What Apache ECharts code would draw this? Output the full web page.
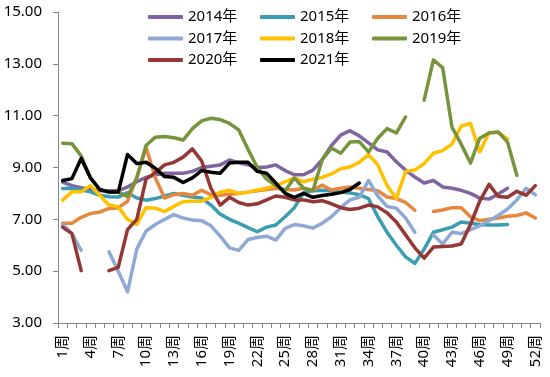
<!DOCTYPE html>
<html>
<head>
<meta charset="utf-8">
<script src="https://cdn.jsdelivr.net/npm/echarts@6/dist/echarts.min.js"></script>
<style>
  html, body { margin: 0; padding: 0; background: #fff; }
  #chart { width: 550px; height: 377px; }
</style>
</head>
<body>
<div id="chart"></div>
<script>
const weeks = Array.from({ length: 52 }, (_, i) => (i + 1) + "周");
const yTicks = [3, 5, 7, 9, 11, 13, 15];

const years = ["2014年", "2015年", "2016年", "2017年", "2018年", "2019年", "2020年", "2021年"];
const colors = ["#8064a2", "#3a9db1", "#e5883e", "#8eaad4", "#ffc000", "#77933c", "#953735", "#000000"];

const y2014 = [8.44, 8.3, 8.22, 8.15, 8.1, 8.1, 8.1, 8.25, 8.45, 8.62, 8.72, 8.78, 8.78, 8.78, 8.85, 9.0, 9.05, 9.1, 9.29, 9.18,
  9.1, 9.0, 9.02, 9.1, 8.88, 8.72, 8.72, 8.9, 9.3, 9.85, 10.25, 10.42, 10.22, 9.95, 9.68, 9.6, 9.22, 8.9, 8.63, 8.4,
  8.5, 8.25, 8.2, 8.12, 8.0, 7.82, 7.78, 7.98, 8.2, null, null, null];
const y2015 = [8.19, 8.2, 8.13, 8.06, 7.93, 7.87, 7.86, 8.03, 7.82, 7.74, 7.8, 7.9, 8.0, 7.93, 7.86, 7.82, 7.55, 7.2, 7.0, 6.85,
  6.68, 6.52, 6.7, 6.78, 7.1, 7.45, 8.03, 8.1, 8.12, 8.1, 8.05, 8.02, 7.95, 7.8, 7.1, 6.5, 6.0, 5.55, 5.3, 5.85,
  6.5, 6.6, 6.7, 6.9, 6.85, 6.8, 6.78, 6.78, 6.8, null, null, null];
const y2016 = [6.85, 6.85, 7.08, 7.22, 7.28, 7.42, 7.45, 7.7, 8.6, 9.78, 8.6, 7.82, 7.95, 8.0, 7.93, 8.12, 7.95, 7.93, 7.97, 8.0,
  8.05, 8.1, 8.15, 8.2, 8.15, 8.13, 8.2, 8.13, 8.32, 8.13, 8.2, 8.25, 8.2, 8.15, 8.1, 7.86, 7.8, 7.65, 7.35, null,
  7.3, 7.36, 7.45, 7.45, 7.1, 6.95, 7.0, 7.05, 7.12, 7.15, 7.25, 7.05];
const y2017 = [6.8, 6.45, 5.8, null, null, 5.75, 5.0, 4.2, 5.85, 6.55, 6.8, 7.0, 7.18, 7.05, 6.97, 6.95, 6.75, 6.35, 5.9, 5.8,
  6.22, 6.3, 6.35, 6.2, 6.65, 6.8, 6.75, 6.66, 6.85, 7.1, 7.45, 7.75, 7.85, 8.5, 7.9, 7.5, 7.43, 7.05, 6.5, null,
  6.4, 6.05, 6.5, 6.45, 6.6, 6.75, 6.95, 7.15, 7.4, 7.75, 8.2, 7.95];
const y2018 = [7.74, 8.06, 8.06, 8.3, 7.93, 7.55, 7.48, 7.0, 6.8, 7.45, 7.43, 7.3, 7.5, 7.68, 7.7, 7.7, 7.85, 8.05, 8.12, 8.0,
  8.05, 8.13, 8.2, 8.3, 8.45, 8.6, 8.45, 8.55, 8.62, 8.75, 8.95, 9.02, 9.2, 9.5, 9.1, 8.3, 7.8, 8.85, 8.9, 9.15,
  9.55, 9.65, 9.9, 10.6, 10.7, 9.6, 10.35, 10.35, 10.1, null, null, null];
const y2019 = [9.94, 9.92, 9.45, 8.6, 8.15, 8.05, 8.05, 7.88, 8.6, 9.85, 10.17, 10.2, 10.15, 10.06, 10.5, 10.8, 10.9, 10.85, 10.7, 10.45,
  9.7, 9.0, 8.55, 8.3, 8.1, 8.6, 8.2, 8.1, 9.3, 9.75, 9.55, 9.98, 10.0, 9.6, 10.13, 10.5, 10.33, 10.95, null, 11.6,
  13.15, 12.85, 10.56, 9.9, 9.17, 10.13, 10.33, 10.37, 9.98, 8.7, null, null];
const y2020 = [6.7, 6.45, 5.02, null, null, 5.02, 5.15, 6.6, 7.0, 8.55, 8.8, 9.1, 9.2, 9.4, 9.72, 9.25, 8.2, 7.55, 7.85, 7.65,
  7.55, 7.6, 7.75, 7.9, 7.85, 7.75, 7.75, 7.68, 7.72, 7.6, 7.45, 7.38, 7.43, 7.55, 7.48, 7.25, 6.9, 6.4, 5.9, 5.5,
  5.93, 5.95, 5.97, 6.05, 6.8, 7.7, 8.35, 7.88, 7.85, 8.08, 7.93, 8.3];
const y2021 = [8.5, 8.57, 9.35, 8.6, 8.15, 8.05, 8.05, 9.5, 9.15, 9.2, 8.97, 8.65, 8.62, 8.42, 8.6, 8.88, 8.82, 8.78, 9.17, 9.2,
  9.2, 8.85, 8.78, 8.4, 8.0, 7.85, 8.0, 7.85, 7.92, 7.97, 8.03, 8.15, 8.4, null, null, null, null, null, null, null,
  null, null, null, null, null, null, null, null, null, null, null, null];

const seriesValues = [y2014, y2015, y2016, y2017, y2018, y2019, y2020, y2021];

const FONT = "'Noto Sans', 'Noto Sans CJK SC', sans-serif";
const axisGray = "#868686";

const chart = echarts.init(document.getElementById("chart"));

// one legend per entry so the 3-column layout lines up like the original
const legends = years.map((name, i) => ({
  data: [name],
  left: 148 + (i % 3) * 112,
  top: 8 + Math.floor(i / 3) * 21.5,
  padding: 0,
  icon: "roundRect",
  itemWidth: 35,
  itemHeight: 4,
  textStyle: { fontSize: 15, color: "#000", fontFamily: FONT, lineHeight: 18 },
}));

chart.setOption({
  animation: false,
  backgroundColor: "#fff",
  grid: { left: 58, right: 10, top: 12, bottom: 54 },
  legend: legends,
  xAxis: {
    type: "category",
    data: weeks,
    boundaryGap: true,
    axisLine: { lineStyle: { color: axisGray, width: 1 } },
    axisTick: { show: true, interval: 0, length: 5, lineStyle: { color: axisGray } },
    axisLabel: {
      interval: 2,
      rotate: 90,
      margin: 12,
      fontSize: 15,
      color: "#000",
      fontFamily: FONT,
    },
  },
  yAxis: {
    type: "value",
    min: yTicks[0],
    max: yTicks[yTicks.length - 1],
    interval: 2,
    splitLine: { show: false },
    axisLine: { show: true, lineStyle: { color: axisGray, width: 1 } },
    axisTick: { show: true, length: 5, lineStyle: { color: axisGray } },
    axisLabel: {
      margin: 16,
      fontSize: 15,
      color: "#000",
      fontFamily: FONT,
      formatter: (v) => v.toFixed(2),
    },
  },
  series: years.map((name, i) => ({
    name,
    type: "line",
    data: seriesValues[i],
    symbol: "none",
    connectNulls: false,
    smooth: false,
    itemStyle: { color: colors[i] },
    lineStyle: { color: colors[i], width: 3.5, join: "round", cap: "round" },
  })),
});
</script>
</body>
</html>
